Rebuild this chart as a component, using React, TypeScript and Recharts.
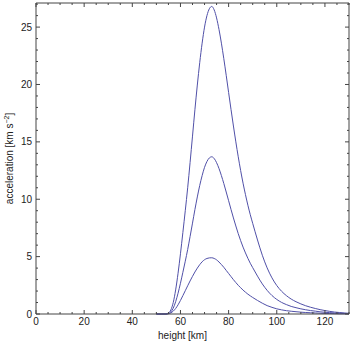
import { LineChart, Line, XAxis, YAxis, Label } from 'recharts'

const heights = [
  50, 52, 54, 55, 56, 57, 58, 59, 60, 61, 62, 63, 64, 65, 66, 67, 68, 69, 70, 71,
  72, 73, 74, 75, 76, 77, 78, 79, 80, 81, 82, 83, 84, 85, 86, 87, 88, 89, 90, 92,
  94, 96, 98, 100, 102, 104, 106, 108, 110, 112, 114, 116, 118, 120, 122, 124, 126, 128, 130,
]

const strongest = [
  0, 0, 0, 0.08, 0.35, 1.0, 2.1, 3.55, 5.25, 7.1, 9.0, 11.0, 13.2, 15.5, 17.8, 19.95, 21.9, 23.6, 25.0, 26.0,
  26.6, 26.8, 26.5, 25.8, 24.8, 23.6, 22.25, 20.8, 19.3, 17.82, 16.38, 15.0, 13.7, 12.5, 11.4, 10.4, 9.48, 8.65, 7.9, 6.45,
  5.12, 4.02, 3.15, 2.48, 1.98, 1.6, 1.3, 1.07, 0.88, 0.72, 0.59, 0.48, 0.38, 0.3, 0.23, 0.17, 0.13, 0.09, 0.06,
]

const medium = [
  0, 0, 0, 0.04, 0.18, 0.51, 1.07, 1.81, 2.68, 3.63, 4.6, 5.62, 6.75, 7.92, 9.1, 10.2, 11.2, 12.06, 12.78, 13.29,
  13.6, 13.7, 13.55, 13.19, 12.68, 12.06, 11.37, 10.63, 9.87, 9.11, 8.37, 7.67, 7.0, 6.39, 5.83, 5.32, 4.85, 4.42, 4.04, 3.3,
  2.62, 2.06, 1.61, 1.27, 1.01, 0.82, 0.66, 0.55, 0.45, 0.37, 0.3, 0.25, 0.19, 0.15, 0.12, 0.09, 0.07, 0.05, 0.03,
]

const weakest = [
  0, 0, 0, 0.02, 0.1, 0.25, 0.48, 0.8, 1.18, 1.6, 2.03, 2.46, 2.88, 3.28, 3.66, 4.0, 4.3, 4.55, 4.73, 4.84,
  4.89, 4.9, 4.84, 4.72, 4.53, 4.31, 4.07, 3.8, 3.53, 3.26, 2.99, 2.74, 2.5, 2.29, 2.08, 1.9, 1.73, 1.58, 1.44, 1.18,
  0.94, 0.73, 0.58, 0.45, 0.36, 0.29, 0.24, 0.2, 0.16, 0.13, 0.11, 0.09, 0.07, 0.05, 0.04, 0.03, 0.02, 0.02, 0.01,
]

const xTicks = [0, 5, 10, 15, 20, 25, 30, 35, 40, 45, 50, 55, 60, 65, 70, 75, 80, 85, 90, 95, 100, 105, 110, 115, 120, 125, 130]
const xLabelled = [0, 20, 40, 60, 80, 100, 120]
const yTicks = [0, 1, 2, 3, 4, 5, 6, 7, 8, 9, 10, 11, 12, 13, 14, 15, 16, 17, 18, 19, 20, 21, 22, 23, 24, 25, 26, 27]
const yLabelled = [0, 5, 10, 15, 20, 25]

const data = heights.map((h, i) => ({ h, a: strongest[i], b: medium[i], c: weakest[i] }))

const FONT = '"Liberation Sans", Arial, sans-serif'
const FRAME = '#444'
const LINE = '#5050a8'

const BottomTick = ({ x, y, payload }: any) => {
  const major = xLabelled.includes(payload.value)
  return (
    <g>
      <line x1={x} x2={x} y1={y - 4} y2={y - 4 - (major ? 4 : 2)} stroke={FRAME} />
      {major && (
        <text x={x} y={y} dy="0.71em" textAnchor="middle" fontSize={10} fontFamily={FONT} fill="#222">
          {payload.value}
        </text>
      )}
    </g>
  )
}

// top and right axes: tick marks only, pointing into the plot
const TopTick = ({ x, y, payload }: any) => {
  const major = xLabelled.includes(payload.value)
  return <line x1={x} x2={x} y1={y} y2={y + (major ? 4 : 2)} stroke={FRAME} />
}

const LeftTick = ({ x, y, payload }: any) => {
  const major = yLabelled.includes(payload.value)
  return (
    <g>
      <line x1={x + 4} x2={x + 4 + (major ? 4 : 2)} y1={y} y2={y} stroke={FRAME} />
      {major && (
        <text x={x} y={y} dy="0.355em" textAnchor="end" fontSize={10} fontFamily={FONT} fill="#222">
          {payload.value}
        </text>
      )}
    </g>
  )
}

const RightTick = ({ x, y, payload }: any) => {
  const major = yLabelled.includes(payload.value)
  return <line x1={x} x2={x - (major ? 4 : 2)} y1={y} y2={y} stroke={FRAME} />
}

export default function App() {
  return (
    <div style={{ position: 'absolute', left: 0, top: 0, background: '#fff' }}>
      <LineChart width={350} height={350} data={data} margin={{ top: 2, right: 0, bottom: 0, left: 0 }}>
        <XAxis
          xAxisId="main"
          dataKey="h"
          type="number"
          domain={[0, 130]}
          ticks={xTicks}
          interval={0}
          height={36}
          tickSize={0}
          tickMargin={4}
          tickLine={false}
          tick={BottomTick}
          axisLine={{ stroke: FRAME }}
        >
          <Label
            content={({ viewBox }: any) => (
              <text
                x={viewBox.x + viewBox.width / 2 - 10}
                y={viewBox.y + 25}
                textAnchor="middle"
                fontSize={10}
                fontFamily={FONT}
                fill="#222"
              >
                height [km]
              </text>
            )}
          />
        </XAxis>
        <XAxis
          xAxisId="top"
          dataKey="h"
          type="number"
          orientation="top"
          domain={[0, 130]}
          ticks={xTicks}
          interval={0}
          height={1}
          tickSize={0}
          tickMargin={0}
          tickLine={false}
          tick={TopTick}
          axisLine={{ stroke: FRAME }}
        />
        <YAxis
          yAxisId="main"
          type="number"
          domain={[0, 27.1]}
          ticks={yTicks}
          interval={0}
          width={36}
          tickSize={0}
          tickMargin={4}
          tickLine={false}
          tick={LeftTick}
          axisLine={{ stroke: FRAME }}
        >
          <Label
            content={({ viewBox }: any) => {
              const cy = viewBox.y + viewBox.height / 2
              return (
                <text
                  transform="rotate(-90)"
                  x={-cy}
                  y={13}
                  textAnchor="middle"
                  fontSize={10}
                  fontFamily={FONT}
                  fill="#222"
                >
                  acceleration [km s
                  <tspan dy={-4} fontSize={7}>
                    −2
                  </tspan>
                  <tspan dy={4}>]</tspan>
                </text>
              )
            }}
          />
        </YAxis>
        <YAxis
          yAxisId="right"
          type="number"
          orientation="right"
          domain={[0, 27.1]}
          ticks={yTicks}
          interval={0}
          width={1}
          tickSize={0}
          tickMargin={0}
          tickLine={false}
          tick={RightTick}
          axisLine={{ stroke: FRAME }}
        />
        <Line xAxisId="main" yAxisId="main" type="monotone" dataKey="a" stroke={LINE} strokeWidth={1} dot={false} isAnimationActive={false} />
        <Line xAxisId="top" yAxisId="right" type="monotone" dataKey="b" stroke={LINE} strokeWidth={1} dot={false} isAnimationActive={false} />
        <Line xAxisId="main" yAxisId="right" type="monotone" dataKey="c" stroke={LINE} strokeWidth={1} dot={false} isAnimationActive={false} />
      </LineChart>
    </div>
  )
}
